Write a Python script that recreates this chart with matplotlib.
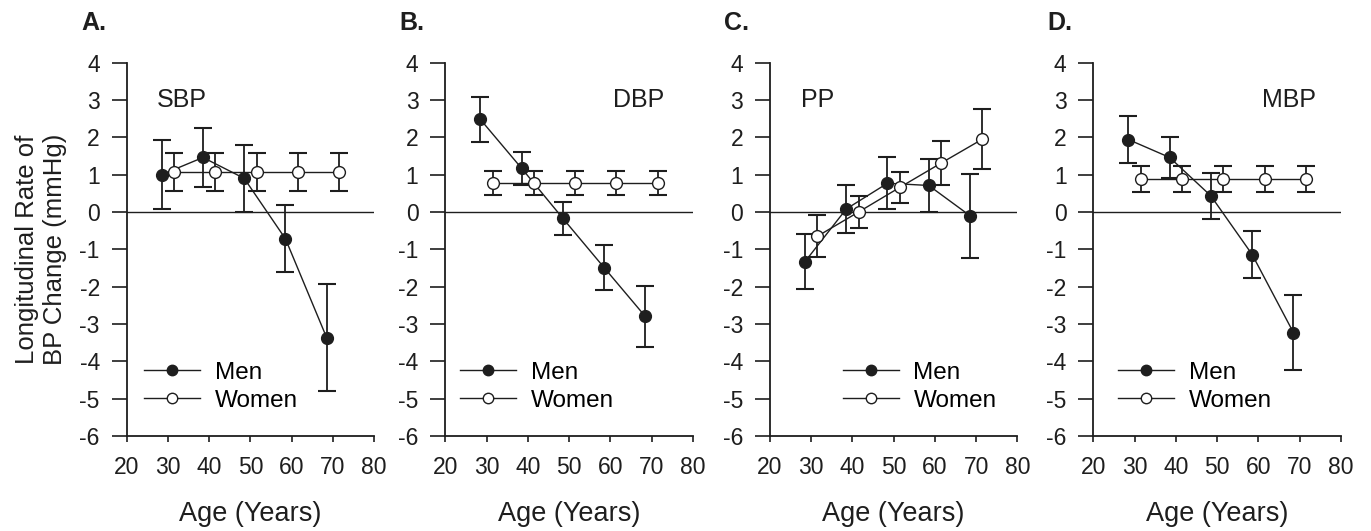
import numpy as np
import matplotlib.pyplot as plt
from matplotlib.lines import Line2D

plt.rcParams['font.family'] = ['Liberation Sans', 'DejaVu Sans']
plt.rcParams['axes.unicode_minus'] = False

# ------------------------------------------------------------
# Data (rate of BP change, mmHg)
# ------------------------------------------------------------
men_age = [28.5, 38.5, 48.5, 58.5, 68.5]
women_age = [31.5, 41.5, 51.5, 61.5, 71.5]

panels = ["A.", "B.", "C.", "D."]
measures = ["SBP", "DBP", "PP", "MBP"]

sbp_men = [1.00, 1.46, 0.90, -0.72, -3.37]
sbp_men_err = [0.93, 0.80, 0.89, 0.90, 1.43]
sbp_women = [1.06, 1.06, 1.06, 1.06, 1.06]
sbp_women_err = [0.51, 0.51, 0.51, 0.51, 0.51]

dbp_men = [2.48, 1.17, -0.17, -1.49, -2.80]
dbp_men_err = [0.61, 0.45, 0.44, 0.60, 0.83]
dbp_women = [0.77, 0.77, 0.77, 0.77, 0.77]
dbp_women_err = [0.32, 0.32, 0.32, 0.32, 0.32]

pp_men = [-1.33, 0.08, 0.77, 0.71, -0.10]
pp_men_err = [0.74, 0.63, 0.70, 0.71, 1.13]
pp_women = [-0.65, 0.00, 0.66, 1.31, 1.95]
pp_women_err = [0.56, 0.42, 0.42, 0.58, 0.80]

mbp_men = [1.94, 1.46, 0.43, -1.14, -3.23]
mbp_men_err = [0.64, 0.55, 0.62, 0.63, 1.00]
mbp_women = [0.88, 0.88, 0.88, 0.88, 0.88]
mbp_women_err = [0.34, 0.34, 0.34, 0.34, 0.34]

men_vals = [sbp_men, dbp_men, pp_men, mbp_men]
men_errs = [sbp_men_err, dbp_men_err, pp_men_err, mbp_men_err]
women_vals = [sbp_women, dbp_women, pp_women, mbp_women]
women_errs = [sbp_women_err, dbp_women_err, pp_women_err, mbp_women_err]

# label placement: (x, ha) in data coords at y = 3
label_pos = [(27.3, "left"), (73, "right"), (27.5, "left"), (74, "right")]
legend_left = [0.072, 0.060, 0.295, 0.10]

ink = "#1e1e1e"

fig = plt.figure(figsize=(13.71, 5.31), dpi=100)
lefts = [0.0924, 0.3248, 0.5616, 0.7975]

for i in range(4):
    ax = fig.add_axes([lefts[i], 0.179, 0.1805, 0.703])

    ax.axhline(0, color=ink, lw=1.0, zorder=1)

    ax.errorbar(men_age, men_vals[i], yerr=men_errs[i], fmt="-o", color=ink,
                mfc=ink, mec=ink, ms=8.5, lw=1.0, elinewidth=1.3,
                capsize=6.5, capthick=1.5, zorder=3)
    ax.errorbar(women_age, women_vals[i], yerr=women_errs[i], fmt="-o", color=ink,
                mfc="white", mec=ink, ms=8.5, lw=1.0, elinewidth=1.3,
                capsize=6.5, capthick=1.5, zorder=4)

    ax.set_xlim(20, 80)
    ax.set_ylim(-6, 4)
    ax.set_xticks(np.arange(20, 81, 10))
    ax.set_yticks(np.arange(-6, 5, 1))
    ax.spines["top"].set_visible(False)
    ax.spines["right"].set_visible(False)
    for s in ("left", "bottom"):
        ax.spines[s].set_linewidth(1.3)
        ax.spines[s].set_color(ink)
    ax.tick_params(axis="y", direction="out", length=10.8, width=1.2,
                   labelsize=16.5, pad=8.5, colors=ink)
    ax.tick_params(axis="x", direction="out", length=4.5, width=1.2,
                   labelsize=16.5, pad=10, colors=ink)
    ax.set_xlabel("Age (Years)", fontsize=19.5, labelpad=16, color=ink)
    if i == 0:
        ax.set_ylabel("Longitudinal Rate of\nBP Change (mmHg)", fontsize=18.5,
                      linespacing=1.2, labelpad=9, color=ink)

    lx, ha = label_pos[i]
    ax.text(lx, 3, measures[i], ha=ha, va="center", fontsize=18, color=ink)
    ax.text(-0.185, 1.105, panels[i], transform=ax.transAxes, fontsize=18,
            fontweight="bold", ha="left", va="center", color=ink)

    handles = [
        Line2D([], [], color=ink, lw=1.0, marker="o", ms=7.5, mfc=ink, mec=ink),
        Line2D([], [], color=ink, lw=1.0, marker="o", ms=7.5, mfc="white", mec=ink),
    ]
    ax.legend(handles, ["Men", "Women"], loc="lower left",
              bbox_to_anchor=(legend_left[i], 0.065), frameon=False,
              fontsize=17.5, handlelength=2.3, handletextpad=0.6,
              labelspacing=0.25, borderpad=0, borderaxespad=0)

fig.savefig("out.png", dpi=100)
